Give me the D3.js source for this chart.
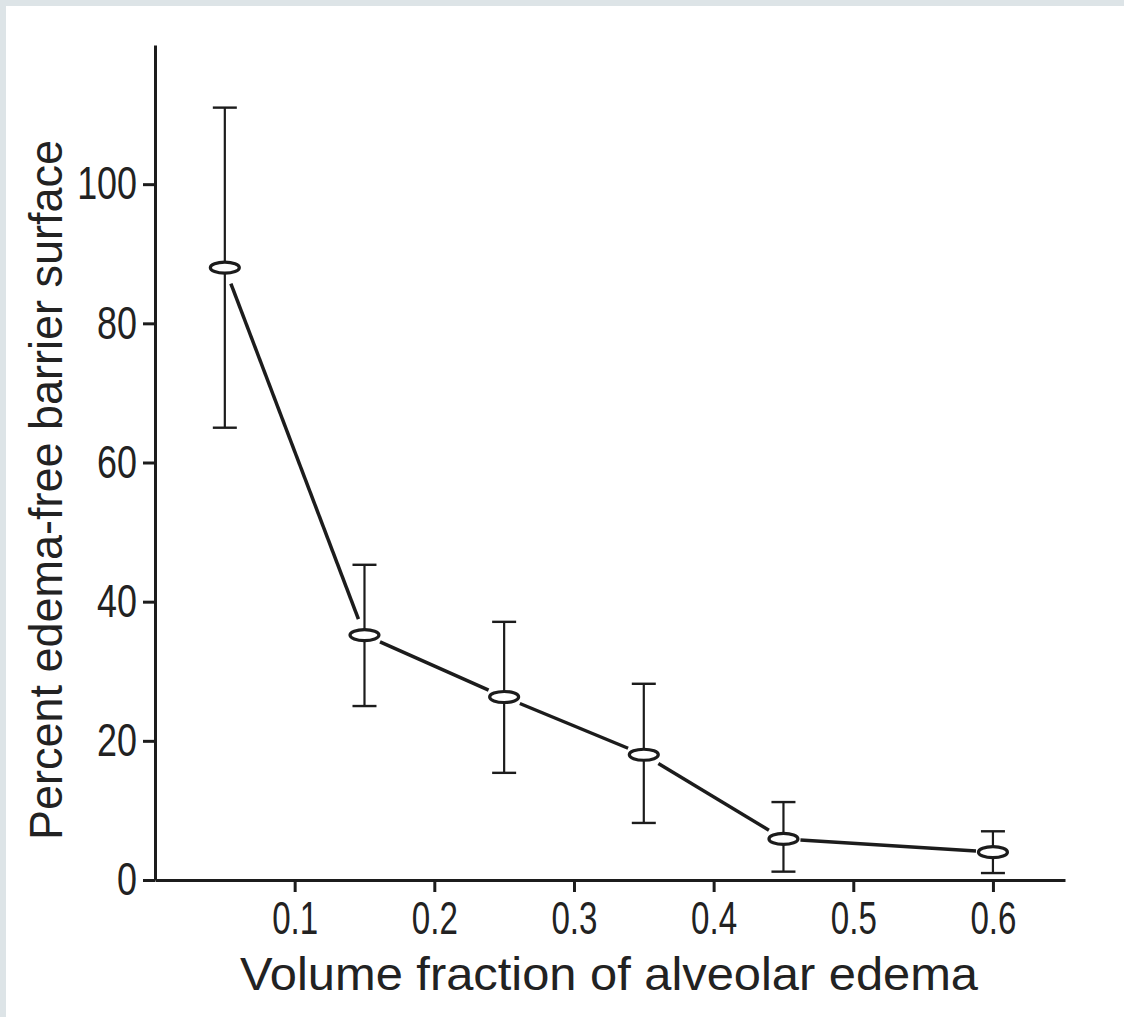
<!DOCTYPE html>
<html lang="en"><head><meta charset="UTF-8">
<script src="https://d3js.org/d3.v7.min.js"></script>
<style>
    body {margin: 0; background: #ffffff;}
    text {font-family: "Liberation Sans", Arial, sans-serif; fill: #222222;}
</style>
</head>
<body>
<div id="edema_chart"></div>

<script>
// values
var fractions   = [0.05, 0.15, 0.25, 0.35, 0.45, 0.60];
var percentFree = [88.0, 35.2, 26.3, 18.0, 5.9, 4.0];
var errHigh     = [111.0, 45.3, 37.1, 28.2, 11.2, 7.0];
var errLow      = [65.0, 25.0, 15.4, 8.2, 1.2, 1.0];
var xTicks = [0.1, 0.2, 0.3, 0.4, 0.5, 0.6];
var yTicks = [0, 20, 40, 60, 80, 100];
var xTitle = "Volume fraction of alveolar edema";
var yTitle = "Percent edema-free barrier surface";

var ink = "#1c1c1c";

function drawChart() {
    var svg = d3.select("#edema_chart")
        .append("svg")
        .attr("width", 1124)
        .attr("height", 1017);

    // scanned page border
    svg.append("rect").attr("x", 0).attr("y", 0).attr("width", 1124).attr("height", 1017).attr("fill", "#ffffff");
    svg.append("rect").attr("x", 0).attr("y", 0).attr("width", 1124).attr("height", 6).attr("fill", "#dde4e7");
    svg.append("rect").attr("x", 0).attr("y", 0).attr("width", 6).attr("height", 1017).attr("fill", "#dde4e7");

    var x = d3.scaleLinear().domain([0, 0.6516]).range([155, 1065]);
    var y = d3.scaleLinear().domain([0, 120]).range([880, 45]);

    // x axis
    var xAxis = svg.append("g")
        .attr("transform", "translate(0,880)")
        .call(d3.axisBottom(x).tickValues(xTicks).tickSize(12).tickSizeOuter(0)
              .tickPadding(9).tickFormat(d3.format(".1f")));
    xAxis.select(".domain").attr("stroke", ink).attr("stroke-width", 3);
    xAxis.selectAll(".tick line").attr("stroke", ink).attr("stroke-width", 3);
    xAxis.selectAll(".tick text")
        .attr("font-size", 46).attr("font-family", null).attr("fill", "#222222")
        .attr("transform", "scale(0.72,1)");

    // y axis
    var yAxis = svg.append("g")
        .attr("transform", "translate(155,0)")
        .call(d3.axisLeft(y).tickValues(yTicks).tickSize(12).tickSizeOuter(0));
    yAxis.select(".domain").attr("stroke", ink).attr("stroke-width", 3);
    yAxis.selectAll(".tick line").attr("stroke", ink).attr("stroke-width", 3);
    yAxis.selectAll(".tick text")
        .attr("font-size", 46).attr("font-family", null).attr("fill", "#222222")
        .attr("x", -18 / 0.78)
        .attr("transform", "scale(0.78,1)");

    // titles
    svg.append("text")
        .attr("x", 240).attr("y", 990)
        .attr("font-size", 46)
        .attr("textLength", 738).attr("lengthAdjust", "spacingAndGlyphs")
        .text(xTitle);

    svg.append("text")
        .attr("transform", "translate(62,840) rotate(-90)")
        .attr("font-size", 46)
        .attr("textLength", 700).attr("lengthAdjust", "spacingAndGlyphs")
        .text(yTitle);

    var pts = fractions.map(function(f, i) {
        return {px: x(f), py: y(percentFree[i]), hi: y(errHigh[i]), lo: y(errLow[i])};
    });

    // connecting line, broken short of each marker
    var gap = 17;
    for (var i = 0; i < pts.length - 1; i++) {
        var a = pts[i], b = pts[i + 1];
        var dx = b.px - a.px, dy = b.py - a.py;
        var len = Math.sqrt(dx * dx + dy * dy);
        svg.append("line")
            .attr("x1", a.px + dx / len * gap).attr("y1", a.py + dy / len * gap)
            .attr("x2", b.px - dx / len * gap).attr("y2", b.py - dy / len * gap)
            .attr("stroke", ink).attr("stroke-width", 3.5);
    }

    // error bars
    var bars = svg.selectAll(".ebar").data(pts).enter().append("g").attr("class", "ebar");
    bars.append("line")
        .attr("x1", function(d) { return d.px; }).attr("x2", function(d) { return d.px; })
        .attr("y1", function(d) { return d.hi; }).attr("y2", function(d) { return d.lo; })
        .attr("stroke", ink).attr("stroke-width", 2.2);
    bars.append("line")
        .attr("x1", function(d) { return d.px - 12; }).attr("x2", function(d) { return d.px + 12; })
        .attr("y1", function(d) { return d.hi; }).attr("y2", function(d) { return d.hi; })
        .attr("stroke", ink).attr("stroke-width", 2.4);
    bars.append("line")
        .attr("x1", function(d) { return d.px - 12; }).attr("x2", function(d) { return d.px + 12; })
        .attr("y1", function(d) { return d.lo; }).attr("y2", function(d) { return d.lo; })
        .attr("stroke", ink).attr("stroke-width", 2.4);

    // open oval markers
    svg.selectAll(".marker").data(pts).enter().append("ellipse")
        .attr("class", "marker")
        .attr("cx", function(d) { return d.px; })
        .attr("cy", function(d) { return d.py; })
        .attr("rx", 14.5).attr("ry", 5.5)
        .attr("fill", "#ffffff").attr("stroke", ink).attr("stroke-width", 3.2);
}

window.onload = drawChart;
</script>
</body>
</html>
